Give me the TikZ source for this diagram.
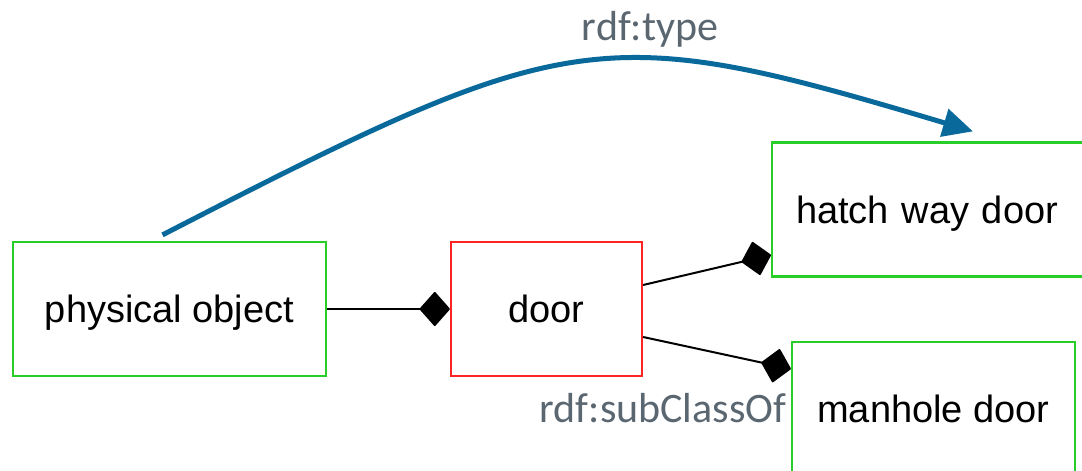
\documentclass[tikz,border=0pt]{standalone}
\usepackage{fontspec}
\setmainfont{Liberation Sans}
\newfontfamily\lblfont{Carlito}
\usetikzlibrary{arrows.meta,calc}
\definecolor{boxgreen}{RGB}{40,205,40}
\definecolor{boxred}{RGB}{255,35,35}
\definecolor{typeblue}{RGB}{10,105,155}
\definecolor{lblgray}{RGB}{90,102,112}
\begin{document}
\begin{tikzpicture}[x=1pt,y=-1pt,
  classbox/.style={draw, line width=2.2pt, minimum height=134pt, inner sep=0pt,
    text height=27pt, text depth=0pt, font=\fontsize{38}{42}\selectfont},
  link/.style={line width=2pt, -{Diamond[length=31pt,width=35pt,round]}},
  typearrow/.style={draw=typeblue, line width=5pt,
    -{Triangle[length=30pt,width=28pt]}},
  lbl/.style={inner sep=0pt, text=lblgray, font=\lblfont\fontsize{42}{46}\selectfont}]
\useasboundingbox (0,0) rectangle (1082,471);
\clip (0,0) rectangle (1082,471);

% class boxes
\node[classbox, draw=boxgreen, minimum width=313pt] (phys) at (169.5,309) {physical object};
\node[classbox, draw=boxred, minimum width=191pt] (door) at (546.5,309) {door};
\node[classbox, draw=boxgreen, anchor=west, inner xsep=24pt, text width=306pt,
  align=left] (hatch) at (771,209.5) {hatch way door};
\node[classbox, draw=boxgreen, minimum width=283pt] (manhole) at (933.5,409) {manhole door};

% subclass links
\draw[link] (phys.east) -- (door.west);
\draw[link] ([yshift=24pt]door.east) -- ([yshift=-45.5pt]hatch.west);
\draw[link] ([yshift=-28pt]door.east) -- ([yshift=-28pt]manhole.north west);

% type arrow
\coordinate (typeFrom) at ([xshift=-7pt,yshift=6pt]phys.north);
\coordinate (typeTo) at ($(hatch.north west)+(202,-10)$);
\draw[typearrow] (typeFrom) .. controls (570,25) and (600,20) .. (typeTo);

% labels
\node[lbl, anchor=base] (typelbl) at (650,40) {rdf:type};
\node[lbl, anchor=base] (sublbl) at (663,422) {rdf:subClassOf};
\end{tikzpicture}
\end{document}
